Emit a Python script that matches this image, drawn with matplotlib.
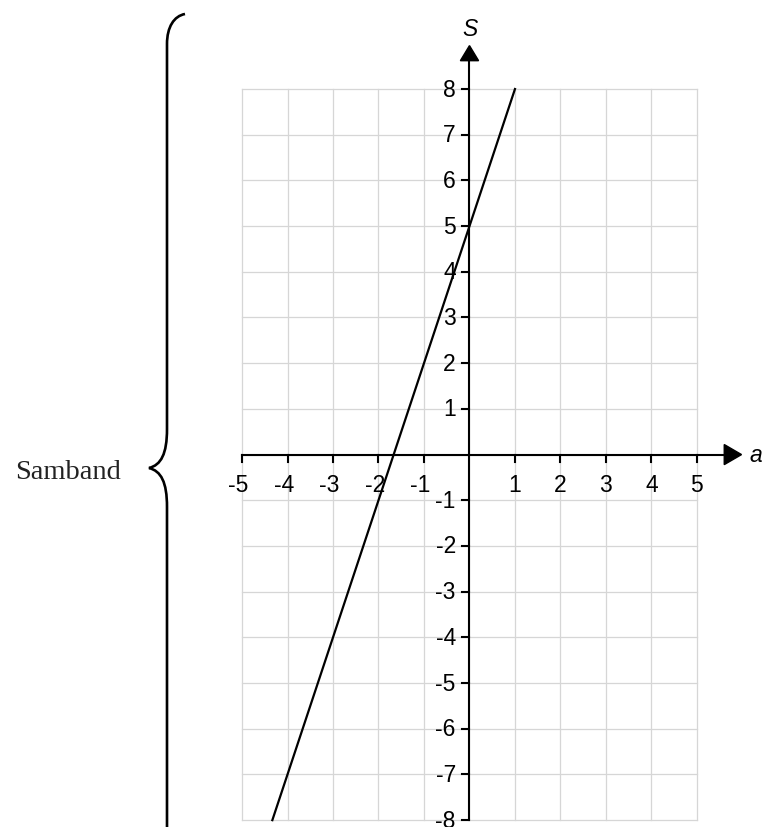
import numpy as np
import matplotlib
matplotlib.use("Agg")
import matplotlib.pyplot as plt
from matplotlib.path import Path
from matplotlib.patches import PathPatch, Polygon

# data: S = 3a + 5, drawn from S=-8 to S=8
line_a = [-13/3, 1]
line_S = [-8, 8]
x_ticks = [-5, -4, -3, -2, -1, 1, 2, 3, 4, 5]
y_ticks = [-8, -7, -6, -5, -4, -3, -2, -1, 1, 2, 3, 4, 5, 6, 7, 8]
brace_label = "Samband"

fig = plt.figure(figsize=(7.62, 8.28), dpi=100)

# overlay in pixel units for the brace and its label
ov = fig.add_axes([0, 0, 1, 1])
ov.set_xlim(0, 762)
ov.set_ylim(828, 0)
ov.axis("off")

verts = [(185, 15), (174, 17), (167, 28), (167, 45),
         (167, 430),
         (167, 455), (161, 466), (149, 469),
         (161, 472), (167, 483), (167, 508),
         (167, 840)]
codes = [Path.MOVETO, Path.CURVE4, Path.CURVE4, Path.CURVE4,
         Path.LINETO,
         Path.CURVE4, Path.CURVE4, Path.CURVE4,
         Path.CURVE4, Path.CURVE4, Path.CURVE4,
         Path.LINETO]
ov.add_patch(PathPatch(Path(verts, codes), fill=False, lw=1.9, color="black", capstyle="butt"))
ov.text(68, 479, brace_label, ha="center", va="baseline", fontsize=20.5,
        family="Liberation Serif", color="#222222")

# main axes in data units
ax = fig.add_axes([0, 0, 1, 1])
ax.patch.set_alpha(0)
ax.set_xlim(-10.32, 6.43)
ax.set_ylim(-8.15, 9.97)
ax.axis("off")

grid_c = "#d6d6d6"
for gx in range(-5, 6):
    ax.plot([gx, gx], [-8, 8], color=grid_c, lw=0.9, zorder=1)
for gy in range(-8, 9):
    ax.plot([-5, 5], [gy, gy], color=grid_c, lw=0.9, zorder=1)

# axes lines
ax.plot([-5, 5.6], [0, 0], color="black", lw=1.5, zorder=3)
ax.plot([0, 0], [-8, 8.7], color="black", lw=1.5, zorder=3)
ax.add_patch(Polygon([[5.6, 0.22], [5.6, -0.22], [5.98, 0]], closed=True,
                     color="black", zorder=3))
ax.add_patch(Polygon([[-0.2, 8.62], [0.2, 8.62], [0, 8.95]], closed=True,
                     color="black", zorder=3))
ax.text(6.15, 0.0, "a", style="italic", fontsize=16.5, ha="left", va="center",
        family="Liberation Sans")
ax.text(0, 9.33, "S", style="italic", fontsize=16.5, ha="center", va="center",
        family="Liberation Sans")

tk = 0.17
for t in x_ticks:
    ax.plot([t, t], [0, -tk], color="black", lw=1.5, zorder=3)
    if t < 0:
        ax.text(t + 0.14, -0.66, str(t), ha="right", va="center", fontsize=16.5,
                family="Liberation Sans")
    else:
        ax.text(t, -0.66, str(t), ha="center", va="center", fontsize=16.5,
                family="Liberation Sans")
for t in y_ticks:
    ax.plot([0, -tk], [t, t], color="black", lw=1.5, zorder=3)
    ax.text(-0.3, t, str(t), ha="right", va="center", fontsize=16.5,
            family="Liberation Sans")

ax.plot(line_a, line_S, color="black", lw=1.6, zorder=4)

fig.savefig("out.png", dpi=100)
